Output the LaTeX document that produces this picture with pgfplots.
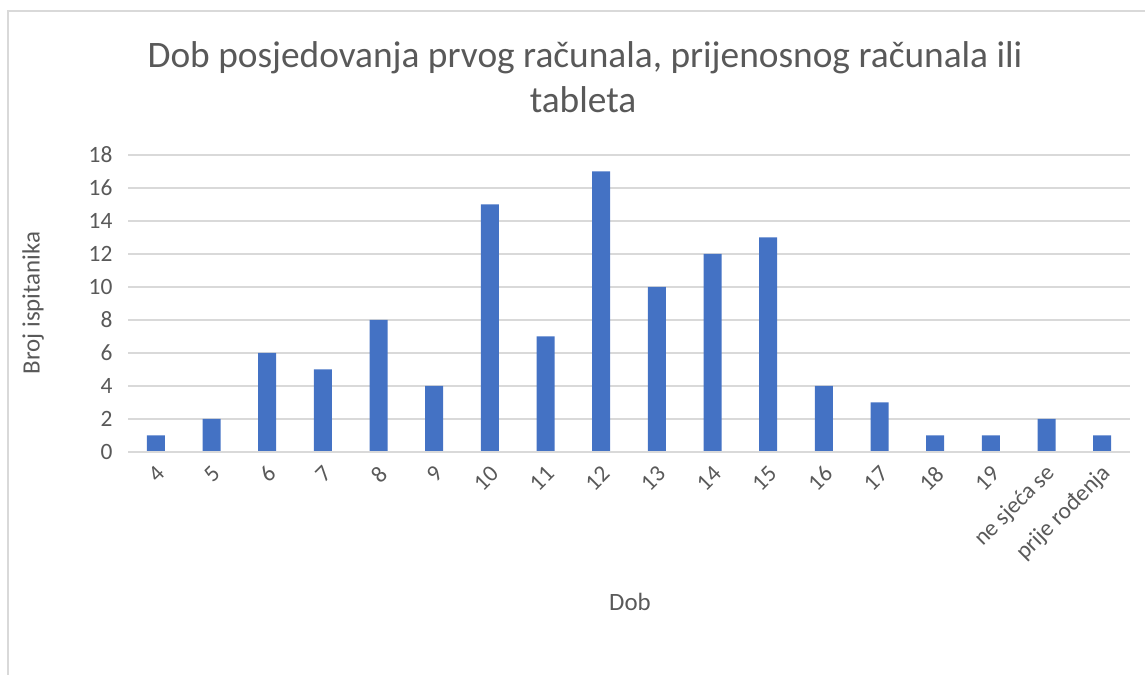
\documentclass[border=0pt]{standalone}
\usepackage{pgfplots}
\pgfplotsset{compat=1.18}
\usepackage{fontspec}
\setmainfont{Carlito}
\definecolor{bar}{HTML}{4472C4}
\definecolor{txt}{HTML}{595959}
\definecolor{grd}{HTML}{D9D9D9}
\begin{document}
\begin{tikzpicture}[x=1bp,y=1bp]
  \path[use as bounding box] (0,0) rectangle (1145,675);
  \draw[grd, line width=1.5bp] (8,0) -- (8,664) -- (1145,664);
  \begin{axis}[
    at={(128bp,223bp)}, anchor=south west,
    scale only axis,
    width=1002bp, height=297bp,
    xmin=-0.5, xmax=17.5,
    ymin=0, ymax=18,
    ytick={0,2,...,18},
    xtick={0,...,17},
    xticklabels={4,5,6,7,8,9,10,11,12,13,14,15,16,17,18,19,ne sjeća se,prije rođenja},
    axis line style={draw=none},
    axis x line*=bottom,
    ymajorgrids,
    grid style={grd, line width=1.2bp},
    major tick length=0pt,
    tick label style={font=\fontsize{23.5}{28}\selectfont, text=txt},
    x tick label style={rotate=45, anchor=east, yshift=-16bp, xshift=-6bp},
    yticklabel style={xshift=-12bp},
    /pgf/number format/assume math mode=true,
    clip=false,
  ]
    \addplot[ybar, bar width=18bp, fill=bar, draw=none] coordinates {
      (0,1) (1,2) (2,6) (3,5) (4,8) (5,4) (6,15) (7,7) (8,17)
      (9,10) (10,12) (11,13) (12,4) (13,3) (14,1) (15,1) (16,2) (17,1)
    };
    \draw[grd, line width=1.5bp] (rel axis cs:0,0) -- (rel axis cs:1,0);
  \end{axis}
  \node[txt, font=\fontsize{37.5}{44}\selectfont] at (585,617) {Dob posjedovanja prvog računala, prijenosnog računala ili};
  \node[txt, font=\fontsize{37.5}{44}\selectfont] at (583,575) {tableta};
  \node[txt, rotate=90, font=\fontsize{25}{30}\selectfont] at (33,372) {Broj ispitanika};
  \node[txt, font=\fontsize{25}{30}\selectfont] at (630,73) {Dob};
\end{tikzpicture}
\end{document}
